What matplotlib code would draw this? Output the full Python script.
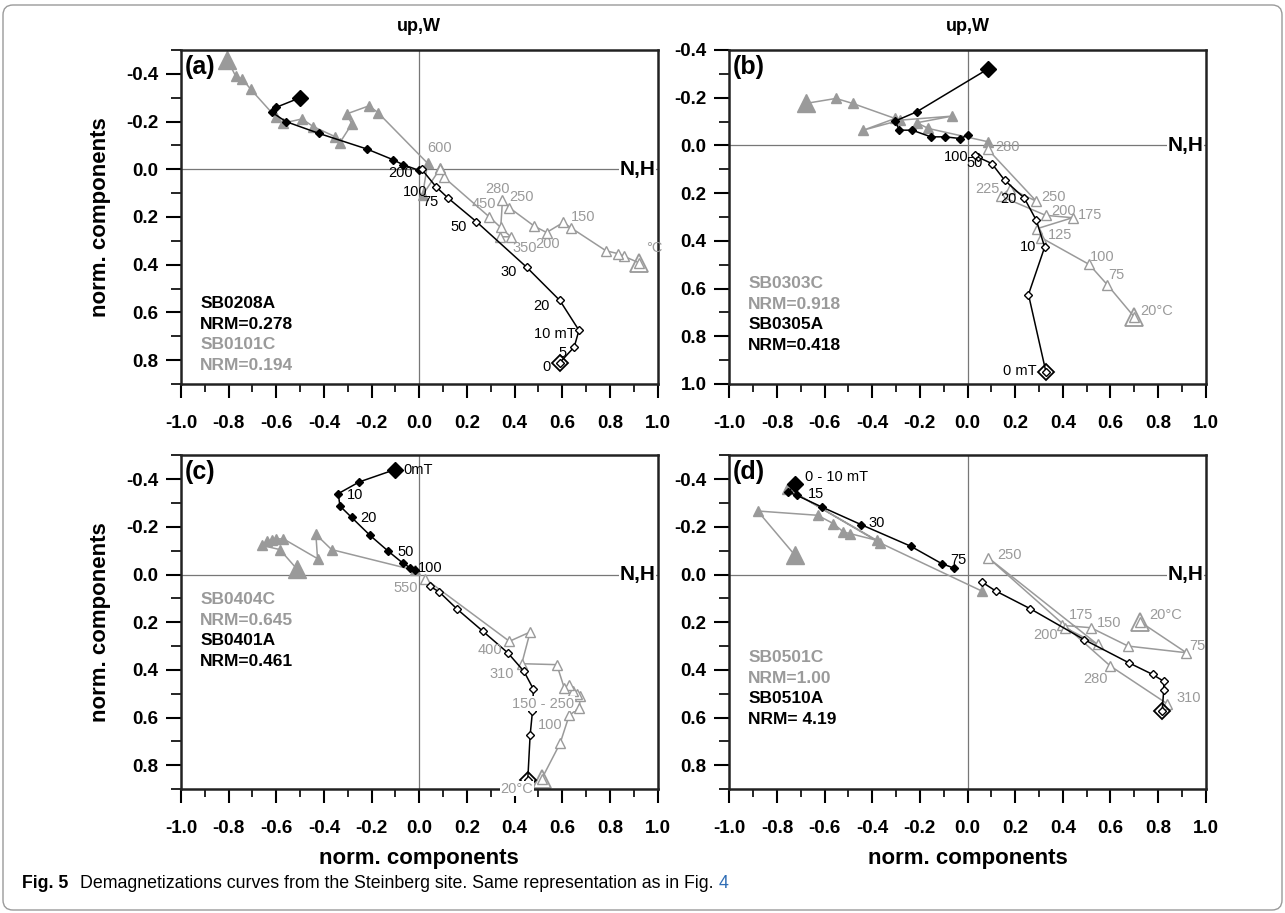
import numpy as np
import matplotlib
matplotlib.use("Agg")
import matplotlib.pyplot as plt
from matplotlib.ticker import MultipleLocator, FormatStrFormatter
from matplotlib.patches import FancyBboxPatch
from matplotlib.transforms import IdentityTransform

plt.rcParams['font.family'] = ['Liberation Sans', 'DejaVu Sans']
plt.rcParams['axes.unicode_minus'] = False

GRAY = '#9a9a9a'

# ---- panel (a) : SB0208A (AF, black) / SB0101C (thermal, gray)
a_af_h_x = [-0.50, -0.60, -0.62, -0.56, -0.42, -0.22, -0.11, -0.07, 0.00]
a_af_h_y = [-0.30, -0.26, -0.24, -0.20, -0.15, -0.085, -0.04, -0.02, 0.005]
a_af_v_x = [0.59, 0.65, 0.67, 0.59, 0.45, 0.24, 0.12, 0.07, 0.01]
a_af_v_y = [0.81, 0.745, 0.675, 0.55, 0.41, 0.22, 0.12, 0.073, 0.0]
a_th_h_x = [-0.805, -0.77, -0.742, -0.708, -0.602, -0.574, -0.492, -0.445, -0.354,
            -0.333, -0.283, -0.305, -0.211, -0.174, 0.035, 0.014, 0.088]
a_th_h_y = [-0.459, -0.389, -0.378, -0.336, -0.218, -0.193, -0.211, -0.179, -0.137,
            -0.112, -0.190, -0.232, -0.266, -0.238, -0.025, 0.108, -0.004]
a_th_v_x = [0.92, 0.857, 0.832, 0.784, 0.636, 0.604, 0.534, 0.482, 0.378, 0.349,
            0.342, 0.339, 0.384, 0.293, 0.104, 0.088]
a_th_v_y = [0.391, 0.364, 0.353, 0.342, 0.245, 0.223, 0.265, 0.238, 0.161, 0.129,
            0.241, 0.283, 0.283, 0.199, 0.034, 0.0]

# ---- panel (b) : SB0303C (thermal, gray) / SB0305A (AF, black)
b_af_h_x = [0.085, -0.213, -0.304, -0.286, -0.232, -0.154, -0.094, -0.031, 0.002]
b_af_h_y = [-0.32, -0.141, -0.102, -0.064, -0.064, -0.036, -0.036, -0.029, -0.043]
b_af_v_x = [0.329, 0.256, 0.324, 0.289, 0.238, 0.156, 0.102, 0.042, 0.032]
b_af_v_y = [0.948, 0.625, 0.426, 0.314, 0.220, 0.146, 0.076, 0.048, 0.041]
b_th_h_x = [-0.679, -0.552, -0.482, -0.304, -0.437, -0.283, -0.063, -0.213, -0.164, 0.088]
b_th_h_y = [-0.176, -0.197, -0.176, -0.113, -0.064, -0.106, -0.123, -0.095, -0.071, -0.015]
b_th_v_x = [0.701, 0.586, 0.511, 0.310, 0.292, 0.441, 0.328, 0.140, 0.179, 0.289, 0.086]
b_th_v_y = [0.720, 0.583, 0.499, 0.387, 0.349, 0.303, 0.293, 0.213, 0.181, 0.234, 0.017]

# ---- panel (c) : SB0404C (thermal, gray) / SB0401A (AF, black)
c_af_h_x = [-0.102, -0.252, -0.340, -0.333, -0.284, -0.207, -0.130, -0.070, -0.039, -0.018]
c_af_h_y = [-0.441, -0.389, -0.340, -0.288, -0.240, -0.165, -0.098, -0.049, -0.029, -0.018]
c_af_v_x = [0.455, 0.465, 0.475, 0.479, 0.439, 0.371, 0.266, 0.160, 0.084, 0.045]
c_af_v_y = [0.864, 0.675, 0.573, 0.481, 0.406, 0.328, 0.237, 0.146, 0.073, 0.049]
c_th_h_x = [-0.515, -0.585, -0.662, -0.64, -0.62, -0.60, -0.57, -0.427, -0.434, -0.368, -0.018]
c_th_h_y = [-0.025, -0.105, -0.123, -0.14, -0.145, -0.15, -0.15, -0.067, -0.169, -0.105, -0.018]
c_th_v_x = [0.514, 0.591, 0.629, 0.672, 0.675, 0.66, 0.647, 0.63, 0.608, 0.577, 0.43,
            0.465, 0.378, 0.024]
c_th_v_y = [0.857, 0.708, 0.591, 0.559, 0.51, 0.50, 0.49, 0.465, 0.475, 0.378, 0.374,
            0.241, 0.280, 0.017]

# ---- panel (d) : SB0501C (thermal, gray) / SB0510A (AF, black)
d_af_h_x = [-0.724, -0.752, -0.717, -0.612, -0.447, -0.238, -0.108, -0.056]
d_af_h_y = [-0.379, -0.347, -0.333, -0.284, -0.210, -0.119, -0.046, -0.027]
d_af_v_x = [0.817, 0.824, 0.824, 0.777, 0.677, 0.490, 0.263, 0.119, 0.060]
d_af_v_y = [0.574, 0.483, 0.448, 0.419, 0.370, 0.273, 0.143, 0.069, 0.031]
d_th_h_x = [-0.724, -0.881, -0.629, -0.563, -0.521, -0.493, -0.381, -0.756, -0.367, 0.060]
d_th_h_y = [-0.081, -0.267, -0.249, -0.214, -0.179, -0.172, -0.144, -0.361, -0.133, 0.069]
d_th_v_x = [0.726, 0.919, 0.674, 0.518, 0.397, 0.410, 0.546, 0.088, 0.600, 0.838]
d_th_v_y = [0.199, 0.328, 0.300, 0.223, 0.213, 0.223, 0.293, -0.070, 0.384, 0.542]

# sample names / NRM text, (text, colour)
a_info = [('SB0208A', 'k'), ('NRM=0.278', 'k'), ('SB0101C', GRAY), ('NRM=0.194', GRAY)]
b_info = [('SB0303C', GRAY), ('NRM=0.918', GRAY), ('SB0305A', 'k'), ('NRM=0.418', 'k')]
c_info = [('SB0404C', GRAY), ('NRM=0.645', GRAY), ('SB0401A', 'k'), ('NRM=0.461', 'k')]
d_info = [('SB0501C', GRAY), ('NRM=1.00', GRAY), ('SB0510A', 'k'), ('NRM= 4.19', 'k')]

# step labels: (text, x, y, ha, colour)
a_steps = [('0', 0.532, 0.829, 'center', 'k'), ('5', 0.60, 0.768, 'center', 'k'),
           ('10 mT', 0.57, 0.692, 'center', 'k'), ('20', 0.514, 0.574, 'center', 'k'),
           ('30', 0.377, 0.43, 'center', 'k'), ('50', 0.164, 0.241, 'center', 'k'),
           ('75', 0.045, 0.136, 'center', 'k'), ('100', -0.018, 0.094, 'center', 'k'),
           ('200', -0.078, 0.014, 'center', 'k'),
           ('600', 0.084, -0.091, 'center', GRAY), ('280', 0.329, 0.084, 'center', GRAY),
           ('250', 0.43, 0.118, 'center', GRAY), ('450', 0.272, 0.146, 'center', GRAY),
           ('150', 0.689, 0.202, 'center', GRAY), ('350', 0.444, 0.332, 'center', GRAY),
           ('200', 0.538, 0.314, 'center', GRAY), ('°C', 0.95, 0.332, 'left', GRAY)]
b_steps = [('100', -0.047, 0.048, 'center', 'k'), ('50', 0.032, 0.074, 'center', 'k'),
           ('20', 0.171, 0.226, 'center', 'k'), ('10', 0.255, 0.426, 'center', 'k'),
           ('0 mT', 0.218, 0.947, 'center', 'k'),
           ('280', 0.166, 0.006, 'center', GRAY), ('225', 0.082, 0.181, 'center', GRAY),
           ('250', 0.361, 0.216, 'center', GRAY), ('200', 0.402, 0.275, 'center', GRAY),
           ('175', 0.516, 0.293, 'center', GRAY), ('125', 0.389, 0.377, 'center', GRAY),
           ('100', 0.565, 0.468, 'center', GRAY), ('75', 0.625, 0.545, 'center', GRAY),
           ('20°C', 0.796, 0.695, 'center', GRAY)]
c_steps = [('0mT', -0.067, -0.441, 'left', 'k'), ('10', -0.305, -0.336, 'left', 'k'),
           ('20', -0.246, -0.239, 'left', 'k'), ('50', -0.092, -0.095, 'left', 'k'),
           ('100', -0.004, -0.028, 'left', 'k'),
           ('550', -0.056, 0.055, 'center', GRAY), ('400', 0.297, 0.318, 'center', GRAY),
           ('310', 0.346, 0.416, 'center', GRAY), ('150 - 250', 0.518, 0.542, 'center', GRAY),
           ('100', 0.549, 0.63, 'center', GRAY), ('20°C', 0.409, 0.899, 'center', GRAY)]
d_steps = [('0 - 10 mT', -0.682, -0.41, 'left', 'k'), ('15', -0.672, -0.337, 'left', 'k'),
           ('30', -0.416, -0.218, 'left', 'k'), ('75', -0.073, -0.06, 'left', 'k'),
           ('250', 0.123, -0.084, 'left', GRAY), ('20°C', 0.761, 0.168, 'left', GRAY),
           ('75', 0.929, 0.30, 'left', GRAY), ('150', 0.544, 0.202, 'left', GRAY),
           ('175', 0.424, 0.168, 'left', GRAY), ('200', 0.326, 0.255, 'center', GRAY),
           ('280', 0.537, 0.437, 'center', GRAY), ('310', 0.877, 0.518, 'left', GRAY)]

W, H = 1285, 913
fig = plt.figure(figsize=(W / 100, H / 100), dpi=100)


def px_axes(x0, y0, x1, y1):
    return fig.add_axes([x0 / W, 1 - y1 / H, (x1 - x0) / W, (y1 - y0) / H])


def draw_panel(ax, ylim, tag, af_h, af_v, th_h, th_v, info, info_y, steps):
    ax.set_xlim(-1.0, 1.0)
    ax.set_ylim(ylim[1], ylim[0])
    ax.axhline(0, color='#777777', lw=0.9, zorder=1)
    ax.axvline(0, color='#777777', lw=0.9, zorder=1)

    # thermal (gray triangles)
    ax.plot(th_h[0], th_h[1], '-', color=GRAY, lw=1.1, marker='^', ms=7,
            mfc=GRAY, mec=GRAY, zorder=2)
    ax.plot(th_h[0][0], th_h[1][0], '^', ms=13, color=GRAY, zorder=2)
    ax.plot(th_v[0], th_v[1], '-', color=GRAY, lw=1.1, marker='^', ms=7,
            mfc='white', mec=GRAY, mew=1.0, zorder=2)
    ax.plot(th_v[0][0], th_v[1][0], '^', ms=13, mfc='none', mec=GRAY, mew=1.3, zorder=2)

    # AF (black diamonds)
    ax.plot(af_h[0], af_h[1], '-', color='k', lw=1.1, marker='D', ms=4.5,
            mfc='k', mec='k', zorder=3)
    ax.plot(af_h[0][0], af_h[1][0], 'D', ms=8.5, color='k', zorder=3)
    ax.plot(af_v[0], af_v[1], '-', color='k', lw=1.1, marker='D', ms=4.5,
            mfc='white', mec='k', mew=1.0, zorder=3)
    ax.plot(af_v[0][0], af_v[1][0], 'D', ms=8.5, mfc='none', mec='k', mew=1.3, zorder=3)

    for t, x, y, ha, c in steps:
        kw = {}
        if t in ('150 - 250', '20°C') and c == GRAY and tag == '(c)':
            kw = dict(bbox=dict(fc='white', ec='none', pad=0.5), clip_on=False, zorder=6)
        ax.text(x, y, t, color=c, fontsize=10.5, ha=ha, va='center', **kw)

    for i, (t, c) in enumerate(info):
        ax.text(-0.92, info_y + i * 0.086, t, color=c, fontsize=12.5,
                fontweight='bold', ha='left', va='center')

    ax.text(-0.985, ylim[0] + 0.07, tag, fontsize=18, fontweight='bold',
            ha='left', va='center')
    ax.text(0.99, 0.0, 'N,H', fontsize=15, fontweight='bold', ha='right', va='center',
            bbox=dict(fc='white', ec='none', pad=0.5), zorder=5)

    ax.xaxis.set_major_locator(MultipleLocator(0.2))
    ax.xaxis.set_minor_locator(MultipleLocator(0.1))
    ax.yaxis.set_major_locator(MultipleLocator(0.2))
    ax.yaxis.set_minor_locator(MultipleLocator(0.1))
    ax.xaxis.set_major_formatter(FormatStrFormatter('%.1f'))
    ax.yaxis.set_major_formatter(FormatStrFormatter('%.1f'))
    ax.tick_params(axis='x', which='major', direction='out', length=10, width=1.5, pad=12)
    ax.tick_params(axis='x', which='minor', direction='out', length=5.8, width=1.2)
    ax.tick_params(axis='y', which='major', direction='out', length=10.8, width=1.5, pad=5.5)
    ax.tick_params(axis='y', which='minor', direction='out', length=7.2, width=1.2)
    for lab in ax.get_xticklabels() + ax.get_yticklabels():
        lab.set_fontweight('bold')
        lab.set_fontsize(13.5)
    for sp in ax.spines.values():
        sp.set_linewidth(1.8)
        sp.set_color('#222222')


ax_a = px_axes(181, 50, 657.6, 384)
ax_b = px_axes(729.3, 50, 1205.7, 384)
ax_c = px_axes(181, 455.5, 657.6, 789)
ax_d = px_axes(729.3, 455.5, 1205.7, 789)

draw_panel(ax_a, (-0.5, 0.9), '(a)', (a_af_h_x, a_af_h_y), (a_af_v_x, a_af_v_y),
           (a_th_h_x, a_th_h_y), (a_th_v_x, a_th_v_y), a_info, 0.564, a_steps)
draw_panel(ax_b, (-0.4, 1.0), '(b)', (b_af_h_x, b_af_h_y), (b_af_v_x, b_af_v_y),
           (b_th_h_x, b_th_h_y), (b_th_v_x, b_th_v_y), b_info, 0.580, b_steps)
draw_panel(ax_c, (-0.5, 0.9), '(c)', (c_af_h_x, c_af_h_y), (c_af_v_x, c_af_v_y),
           (c_th_h_x, c_th_h_y), (c_th_v_x, c_th_v_y), c_info, 0.105, c_steps)
draw_panel(ax_d, (-0.5, 0.9), '(d)', (d_af_h_x, d_af_h_y), (d_af_v_x, d_af_v_y),
           (d_th_h_x, d_th_h_y), (d_th_v_x, d_th_v_y), d_info, 0.349, d_steps)

for ax in (ax_a, ax_b):
    ax.text(0.0, ax.get_ylim()[1] - 0.1, 'up,W', fontsize=13, fontweight='bold',
            ha='center', va='center', clip_on=False)

for ax in (ax_a, ax_c):
    ax.set_ylabel('norm. components', fontsize=16, fontweight='bold')
    ax.yaxis.set_label_coords(-0.147, 0.5)
for ax in (ax_c, ax_d):
    ax.set_xlabel('norm. components', fontsize=16, fontweight='bold')
    ax.xaxis.label.set_va('center')
    ax.xaxis.set_label_coords(0.5, -0.207)

# caption
fig.text(22 / W, 1 - 883 / H, 'Fig. 5', fontsize=12.8, fontweight='bold', va='center')
cap = fig.text(80 / W, 1 - 883 / H,
               'Demagnetizations curves from the Steinberg site. Same representation as in Fig. ',
               fontsize=12.8, va='center')
fig.canvas.draw()
bb = cap.get_window_extent()
fig.text(bb.x1 / W, 1 - 883 / H, '4', fontsize=12.8, va='center', color='#2f6db5')

frame = FancyBboxPatch((3, 3), W - 6, H - 8, boxstyle='round,pad=0,rounding_size=10',
                       transform=IdentityTransform(), fc='none', ec='#9a9a9a', lw=1.0)
fig.patches.append(frame)

fig.savefig('out.png', dpi=100)
